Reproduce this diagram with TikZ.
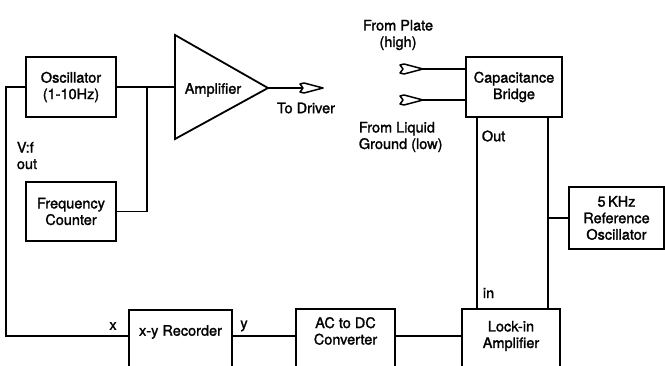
\documentclass[tikz,border=0pt]{standalone}
\usepackage{fontspec}
\setmainfont{TeX Gyre Heros}[BoldFont={TeX Gyre Heros},BoldFeatures={FakeBold=1.6}]
\begin{document}
\begin{tikzpicture}[x=1pt,y=-1pt,line width=1.8pt,
  txt/.style={inner sep=0pt,align=center,font=\fontsize{14.5}{16.5}\selectfont\bfseries},
  box/.style={draw,line width=1.8pt,inner sep=0pt,align=center,font=\fontsize{14.5}{16.5}\selectfont\bfseries},
  termarrow/.pic={\draw[line width=1.5pt,line join=round] (0,0) -- (-19,-5) -- (-23,-4) -- (-20,0) -- (-23,4) -- (-19,5) -- cycle;}]
\useasboundingbox (0,0) rectangle (665,366);
\clip (0,0) rectangle (665,366);
% boxes
\node[box,minimum width=90,minimum height=60] (osc) at (71,87) {Oscillator\\(1-10Hz)};
\node[box,minimum width=90,minimum height=59] (freq) at (71,211.5) {Frequency\\Counter};
\node[box,minimum width=96,minimum height=60] (cap) at (514,87) {Capacitance\\Bridge};
\node[box,minimum width=95,minimum height=62] (ref) at (616.5,218) {5\,KHz\\Reference\\Oscillator};
\node[box,anchor=north,minimum width=103,minimum height=90] (xy) at (180.5,309) {};
\node[box,anchor=north,minimum width=99,minimum height=90] (acdc) at (345.5,308) {};
\node[box,anchor=north,minimum width=98,minimum height=90] (lock) at (511,308) {};
\node[txt] (xyt) at (180.5,332) {x-y Recorder};
\node[txt] (acdct) at (345.5,331) {AC to DC\\Converter};
\node[txt] (lockt) at (511,336) {Lock-in\\Amplifier};
% amplifier
\coordinate (ampin) at (175,87);
\coordinate (ampout) at (268,88);
\draw[line join=miter] (175,35) -- (ampout) -- (175,139) -- cycle;
\node[txt] (amp) at (213,90) {Amplifier};
% wires
\coordinate (j1) at (147,87);
\coordinate (lc) at (6,336);
\coordinate (cL) at (477,0);
\coordinate (cR) at (548,0);
\draw (osc.east) -- (ampin);
\draw (j1) |- (freq.east);
\draw (osc.west) -| (lc) -- (xy.west |- lc);
\draw (xy.east |- lc) -- (acdc.west |- lc);
\draw (acdc.east |- lc) -- (lock.west |- lc);
\draw (cap.south -| cL) -- (lock.north -| cL);
\draw (cap.south -| cR) -- (lock.north -| cR);
\draw (ref.west) -- (ref.west -| cR);
% terminals
\coordinate (pin) at (423,69);
\coordinate (lin) at (423,100);
\coordinate (drv) at (303,88);
\coordinate (drvtip) at (323,88);
\pic at (pin) {termarrow};
\pic at (lin) {termarrow};
\pic at (drvtip) {termarrow};
\draw (pin) -- (cap.west |- pin);
\draw (lin) -- (cap.west |- lin);
\draw (ampout) -- (drv);
% labels
\node[txt,anchor=north west,align=left] (vf) at (16,141) {V:f\\out};
\node[txt] (todrv) at (306,108) {To Driver};
\node[txt] (plate) at (398,35) {From Plate\\(high)};
\node[txt,anchor=north west,align=left] (liq) at (358,121) {From Liquid\\Ground (low)};
\node[txt,anchor=west] (outl) at (481,136) {Out};
\node[txt,anchor=west] (inl) at (482,293) {in};
\node[txt] (xl) at (113,326) {x};
\node[txt] (yl) at (244,326) {y};
\end{tikzpicture}
\end{document}
